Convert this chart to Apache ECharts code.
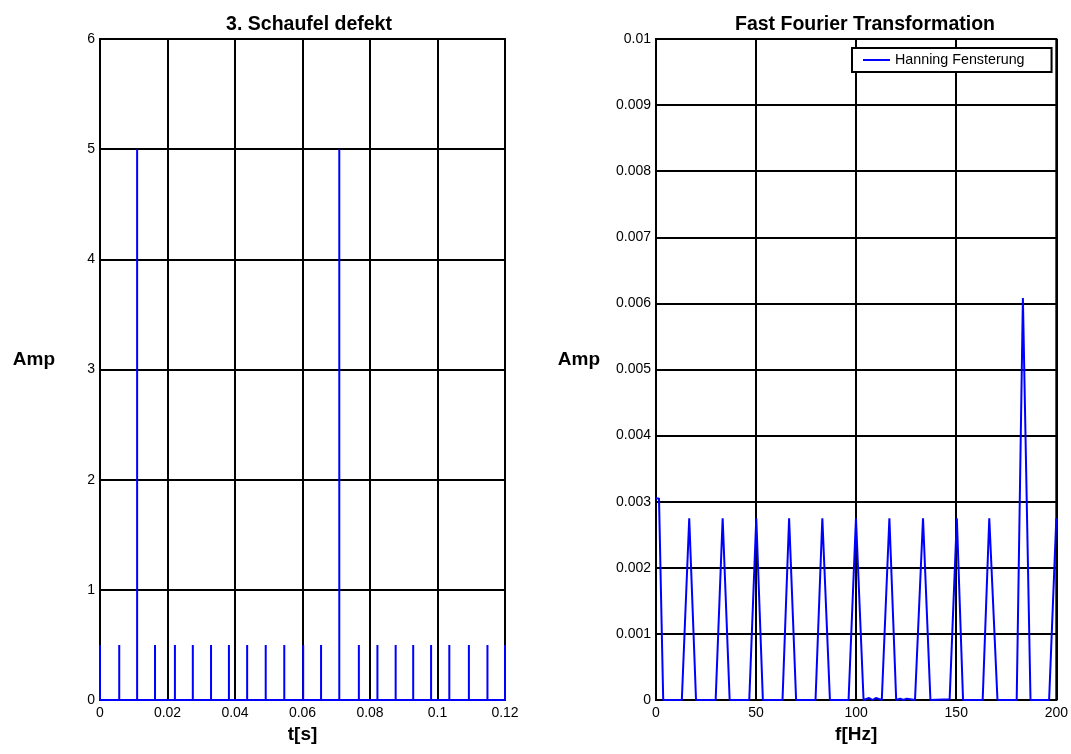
<!DOCTYPE html>
<html><head><meta charset="utf-8">
<script src="https://cdn.jsdelivr.net/npm/echarts@6/dist/echarts.min.js"></script>
<style>html,body{margin:0;padding:0;background:#fff}#c{width:1071px;height:754px}</style>
</head><body><div id="c"></div>
<script>
// Left panel: pulse train (time in s, amplitude)
const pulseTimes = [0, 0.0057, 0.0110, 0.0163, 0.0222, 0.0275, 0.0329, 0.0382, 0.0436, 0.0491, 0.0546, 0.0602,
  0.0655, 0.0709, 0.0767, 0.0822, 0.0876, 0.0928, 0.0981, 0.1035, 0.1093, 0.1148, 0.1200];
const pulseAmps = [0.5, 0.5, 5, 0.5, 0.5, 0.5, 0.5, 0.5, 0.5, 0.5, 0.5, 0.5,
  0.5, 5, 0.5, 0.5, 0.5, 0.5, 0.5, 0.5, 0.5, 0.5, 0.5];
// Right panel: FFT spectrum (Hz, amplitude)
const fftFreq = [0, 1.5, 3.6, 12.9, 16.6, 20.0, 29.8, 33.3, 36.8, 46.6, 50.1, 53.4, 63.2, 66.5, 70.0,
  79.7, 83.1, 86.9, 96.2, 99.9, 103.7, 106.5, 108.2, 109.8, 112.8, 116.6, 120.0, 122.0, 123.6, 125.3,
  129.4, 133.4, 137.1, 146.7, 150.3, 153.4, 158.3, 163.2, 166.5, 170.6, 180.2, 183.3, 187.1, 196.4, 200];
const fftAmp = [0.00305, 0.00305, 0, 0, 0.00275, 0, 0, 0.00275, 0, 0, 0.00275, 0, 0, 0.00275, 0,
  0, 0.00275, 0, 0, 0.00275, 0, 0.00003, 0, 0.00003, 0, 0.00275, 0, 0.00002, 0, 0.00002,
  0, 0.00275, 0, 0.00001, 0.00275, 0, 0, 0, 0.00275, 0, 0, 0.00608, 0, 0, 0.00275];

const FONT = '"Liberation Sans", Arial, Helvetica, sans-serif';
const timeData = [];
pulseTimes.forEach((t, i) => { timeData.push([t, 0], [t, pulseAmps[i]], [t, 0]); });
const fftData = fftFreq.map((f, i) => [f, fftAmp[i]]);

const gridCommon = { show: true, borderColor: '#000', borderWidth: 2, backgroundColor: '#fff', top: 39, height: 661 };
const split = { show: true, lineStyle: { color: '#000', width: 2 } };
const lab = { color: '#000', fontSize: 14, fontFamily: FONT };
const nameStyle = { color: '#000', fontSize: 19, fontWeight: 'bold', fontFamily: FONT };
const yNameStyle = Object.assign({ verticalAlign: 'bottom' }, nameStyle);
const titleStyle = { fontSize: 19.5, fontWeight: 'bold', color: '#000', fontFamily: FONT };

const chart = echarts.init(document.getElementById('c'), null, { renderer: 'canvas' });
chart.setOption({
  animation: false,
  backgroundColor: '#fff',
  title: [
    { text: '3. Schaufel defekt', left: 304, top: 10, textAlign: 'center', textStyle: titleStyle },
    { text: 'Fast Fourier Transformation', left: 860, top: 10, textAlign: 'center', textStyle: titleStyle }
  ],
  legend: {
    data: ['Hanning Fensterung'], left: 852, top: 48, padding: [5, 27, 5, 11],
    itemWidth: 27, itemHeight: 2, icon: 'rect',
    borderColor: '#000', borderWidth: 2, backgroundColor: '#fff',
    textStyle: { color: '#000', fontSize: 14.3, fontFamily: FONT }
  },
  grid: [
    Object.assign({ left: 100, width: 405 }, gridCommon),
    Object.assign({ left: 656, width: 403 }, gridCommon)
  ],
  xAxis: [
    { type: 'value', gridIndex: 0, min: 0, max: 0.12, interval: 0.02, name: 't[s]', nameLocation: 'middle', nameGap: 22,
      nameTextStyle: nameStyle, axisLine: { show: true, lineStyle: { color: '#000', width: 2 } }, axisTick: { show: false },
      axisLabel: Object.assign({ margin: 6 }, lab), splitLine: split },
    { type: 'value', gridIndex: 1, min: 0, max: 200, interval: 50, name: 'f[Hz]', nameLocation: 'middle', nameGap: 22,
      nameTextStyle: nameStyle, axisLine: { show: true, lineStyle: { color: '#000', width: 2 } }, axisTick: { show: false },
      axisLabel: Object.assign({ margin: 6 }, lab), splitLine: split }
  ],
  yAxis: [
    { type: 'value', gridIndex: 0, min: 0, max: 6, interval: 1, name: 'Amp', nameLocation: 'middle', nameRotate: 0, nameGap: 45,
      nameTextStyle: yNameStyle, axisLine: { show: true, lineStyle: { color: '#000', width: 2 } }, axisTick: { show: false },
      axisLabel: Object.assign({ margin: 5 }, lab), splitLine: split },
    { type: 'value', gridIndex: 1, min: 0, max: 0.01, interval: 0.001, name: 'Amp', nameLocation: 'middle', nameRotate: 0, nameGap: 56,
      nameTextStyle: yNameStyle, axisLine: { show: true, lineStyle: { color: '#000', width: 2 } }, axisTick: { show: false },
      axisLabel: Object.assign({ margin: 5 }, lab), splitLine: split }
  ],
  series: [
    { type: 'line', xAxisIndex: 0, yAxisIndex: 0, data: timeData, showSymbol: false, clip: false,
      lineStyle: { color: '#0000ff', width: 2 }, itemStyle: { color: '#0000ff' }, z: 5 },
    { type: 'line', name: 'Hanning Fensterung', xAxisIndex: 1, yAxisIndex: 1, data: fftData, showSymbol: false, clip: false,
      lineStyle: { color: '#0000ff', width: 2 }, itemStyle: { color: '#0000ff' }, z: 5 }
  ]
});
</script></body></html>
